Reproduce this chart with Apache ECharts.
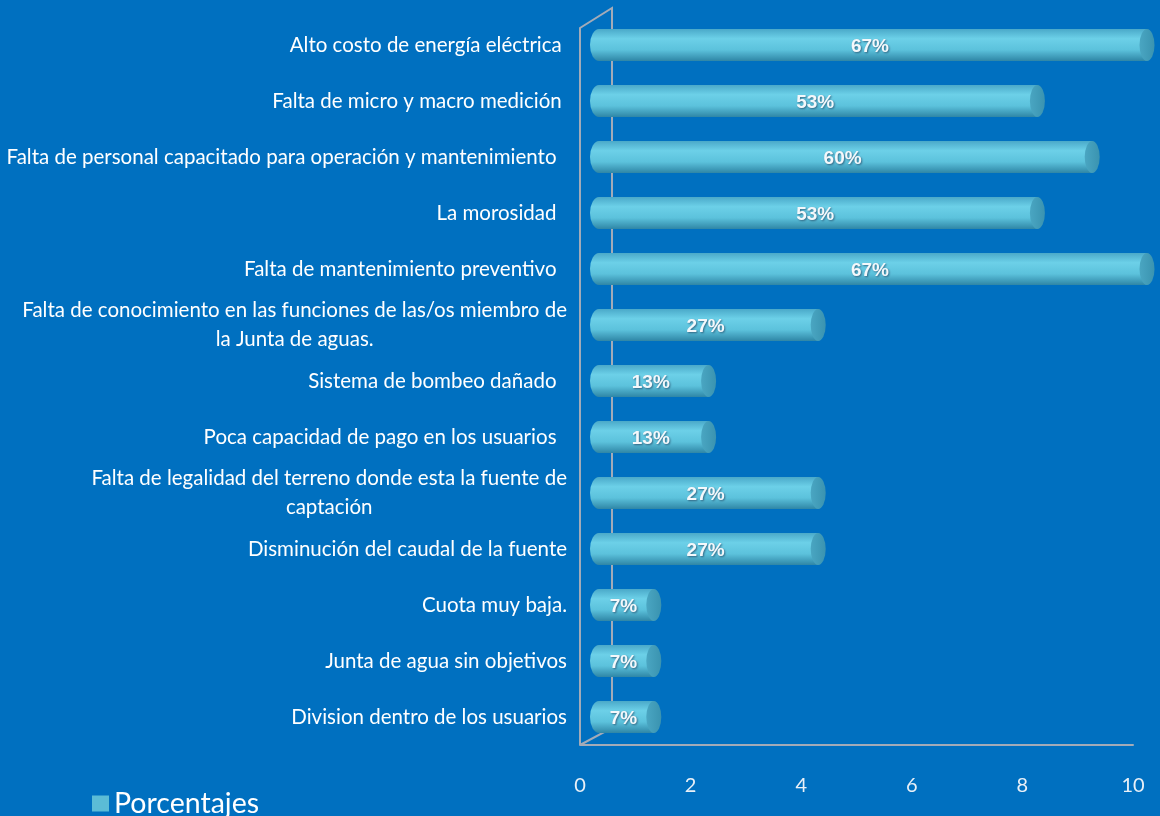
<!DOCTYPE html>
<html>
<head>
<meta charset="utf-8">
<script src="https://cdn.jsdelivr.net/npm/echarts@6/dist/echarts.min.js"></script>
<style>
    html, body { margin: 0; padding: 0; background: #0070c0; }
    #chart { width: 1160px; height: 816px; }
</style>
</head>
<body>
<div id="chart"></div>
<script>
// categorías, de arriba hacia abajo
const categories = [
    'Alto costo de energía eléctrica ',
    'Falta de micro y macro medición ',
    'Falta de personal capacitado para operación y mantenimiento  ',
    'La morosidad  ',
    'Falta de mantenimiento preventivo  ',
    'Falta de conocimiento en las funciones de las/os miembro de\nla Junta de aguas.',
    'Sistema de bombeo dañado  ',
    'Poca capacidad de pago en los usuarios  ',
    'Falta de legalidad del terreno donde esta la fuente de\ncaptación',
    'Disminución del caudal de la fuente',
    'Cuota muy baja.',
    'Junta de agua sin objetivos',
    'Division dentro de los usuarios'
];
const values = [10, 8, 9, 8, 10, 4, 2, 2, 4, 4, 1, 1, 1];
const pctLabels = ['67%', '53%', '60%', '53%', '67%', '27%', '13%', '13%', '27%', '27%', '7%', '7%', '7%'];
const xTicks = [0, 2, 4, 6, 8, 10];

const chart = echarts.init(document.getElementById('chart'));

const barColor = new echarts.graphic.LinearGradient(0, 0, 0, 1, [
    { offset: 0, color: '#4aa9c9' },
    { offset: 0.3, color: '#6cd0e8' },
    { offset: 0.65, color: '#5cc2dc' },
    { offset: 1, color: '#2f86a6' }
]);

const frameColor = '#a3abb8';
const labelFont = 20.5;

const option = {
    backgroundColor: '#0070c0',
    animation: false,
    grid: [
        // eje visible (0..10 de 580 a 1133)
        { left: 580, right: 27, top: 17, bottom: 71 },
        // plano de las barras, desplazado por la profundidad 3D
        { left: 599, right: 13, top: 17, bottom: 71 }
    ],
    legend: {
        data: [{ name: 'Porcentajes', itemStyle: { color: '#5bbcd6' } }],
        left: 87,
        top: 784,
        icon: 'rect',
        itemWidth: 17,
        itemHeight: 16,
        itemGap: 8,
        textStyle: { color: '#ffffff', fontSize: 28.5, fontFamily: 'Lato' }
    },
    xAxis: [
        {
            gridIndex: 0,
            type: 'value',
            min: 0,
            max: 10,
            interval: 2,
            axisLine: { show: true, lineStyle: { color: frameColor, width: 2 } },
            axisTick: { show: false },
            splitLine: { show: false },
            axisLabel: {
                color: '#e9f0f7',
                fontSize: 20,
                fontFamily: 'Lato',
                margin: 31,
                formatter: v => (xTicks.indexOf(v) >= 0 ? String(v) : '')
            }
        },
        {
            gridIndex: 1,
            type: 'value',
            min: 0,
            max: 10,
            show: false
        }
    ],
    yAxis: [
        {
            gridIndex: 0,
            type: 'category',
            data: categories,
            inverse: true,
            axisLine: { show: false },
            axisTick: { show: false },
            axisLabel: {
                margin: 13,
                color: '#ffffff',
                fontSize: labelFont,
                fontFamily: 'Lato',
                lineHeight: 29,
                formatter: function (val) {
                    const parts = val.split('\n');
                    if (parts.length === 1) return '{t|' + val + '}';
                    return '{t|' + parts[0] + '}\n{c|' + parts[1] + '}';
                },
                rich: {
                    t: { color: '#ffffff', fontSize: labelFont, fontFamily: 'Lato', lineHeight: 29 },
                    c: { color: '#ffffff', fontSize: labelFont, fontFamily: 'Lato', lineHeight: 29, align: 'center' }
                }
            }
        },
        {
            gridIndex: 1,
            type: 'category',
            data: categories,
            inverse: true,
            show: false
        }
    ],
    series: [
        {
            name: 'Porcentajes',
            type: 'bar',
            xAxisIndex: 1,
            yAxisIndex: 1,
            data: values,
            barWidth: 32,
            z: 3,
            itemStyle: { color: barColor },
            label: {
                show: true,
                position: 'inside',
                offset: [-3, 2],
                formatter: p => pctLabels[p.dataIndex],
                color: '#f4f8fb',
                fontSize: 19,
                fontWeight: 'bold',
                fontFamily: 'Liberation Sans',
                textShadowColor: 'rgba(40,80,110,0.8)',
                textShadowBlur: 2,
                textShadowOffsetX: 1,
                textShadowOffsetY: 1
            }
        },
        {
            name: 'inicio',
            type: 'pictorialBar',
            xAxisIndex: 1,
            yAxisIndex: 1,
            data: values,
            symbol: 'circle',
            symbolSize: [18, 32],
            symbolPosition: 'start',
            symbolOffset: ['-50%', 0],
            barGap: '-100%',
            z: 2,
            itemStyle: { color: barColor }
        },
        {
            name: 'tapa',
            type: 'pictorialBar',
            xAxisIndex: 1,
            yAxisIndex: 1,
            data: values,
            symbol: 'circle',
            symbolSize: [15, 32],
            symbolPosition: 'end',
            symbolOffset: ['50%', 0],
            barGap: '-100%',
            z: 4,
            itemStyle: {
                color: new echarts.graphic.LinearGradient(1, 0, 0, 0, [
                    { offset: 0, color: '#3a93b0' },
                    { offset: 1, color: '#4aa6c2' }
                ])
            }
        }
    ],
    graphic: [
        {
            type: 'polyline',
            z: 0,
            silent: true,
            shape: { points: [[580, 745], [580, 28], [612, 8], [612, 728], [580, 745]] },
            style: { stroke: frameColor, lineWidth: 2, fill: null }
        }
    ]
};

chart.setOption(option);
</script>
</body>
</html>
